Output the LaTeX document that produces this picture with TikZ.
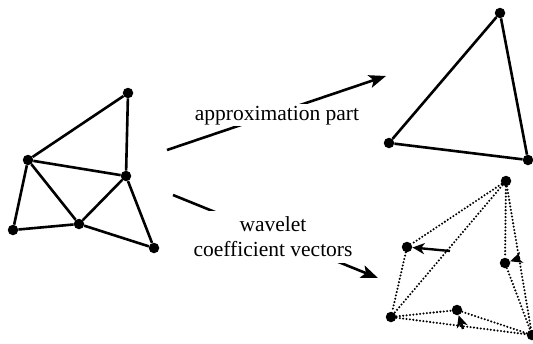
\documentclass[tikz,border=0pt]{standalone}
\usepackage{fontspec}
\setmainfont{Liberation Serif}
\usetikzlibrary{arrows.meta}
\begin{document}
\begin{tikzpicture}[x=1pt,y=-1pt,
  vtx/.style={circle,fill=black,inner sep=0pt,minimum size=10.5pt},
  edge/.style={line width=2.6pt},
  dotedge/.style={line width=2.3pt,dash pattern=on 0pt off 3.4pt,line cap=round},
  bigarrow/.style={line width=2.6pt,-{Stealth[length=17pt,width=13pt,inset=4pt]}},
  vecarrow/.style={line width=2.4pt,-{Stealth[length=12pt,width=11pt,inset=3.5pt]}},
  lbl/.style={fill=white,font=\fontsize{21.5}{25}\selectfont,align=center}]
\useasboundingbox (0,0) rectangle (533,343);
% left fine mesh
\node[vtx] (a) at (128,93) {};
\node[vtx] (b) at (28,160) {};
\node[vtx] (c) at (126,176) {};
\node[vtx] (d) at (13,230) {};
\node[vtx] (e) at (79,224) {};
\node[vtx] (f) at (154,248) {};
\draw[edge] (a) -- (b) (a) -- (c) (b) -- (c) (b) -- (d) (b) -- (e)
  (c) -- (e) (c) -- (f) (d) -- (e) (e) -- (f);
% top right coarse triangle
\node[vtx] (p) at (500,13) {};
\node[vtx] (q) at (389,143) {};
\node[vtx] (r) at (528,160) {};
\draw[edge] (p) -- (q) -- (r) -- (p);
% bottom right: wavelet vectors
\node[vtx] (t) at (506,181) {};
\node[vtx] (l) at (407,247) {};
\node[vtx] (m) at (505,263) {};
\node[vtx] (bl) at (391,317) {};
\node[vtx] (mm) at (457,310) {};
\node[vtx] (br) at (532,335) {};
\draw[dotedge] (t) -- (l) (t) -- (bl) (t) -- (m) (t) -- (br) (l) -- (bl)
  (m) -- (br) (bl) -- (mm) (mm) -- (br) (bl) -- (br);
\coordinate (lt) at (450,251);
\coordinate (mt) at (520,258);
\coordinate (mmt) at (463,329);
\draw[vecarrow] (lt) -- (l);
\draw[vecarrow] (mt) -- (m);
\draw[vecarrow] (mmt) -- (mm);
% big arrows with labels
\coordinate (s1) at (167,150);
\coordinate (e1) at (386,76);
\coordinate (s2) at (173,195);
\coordinate (e2) at (378,278);
\draw[bigarrow] (s1) -- (e1);
\draw[bigarrow] (s2) -- (e2);
\node[lbl,anchor=base,inner sep=1.5pt] (t1) at (277,120) {approximation part};
\node[lbl,inner xsep=2pt,inner ysep=6pt] (t2) at (273,237) {wavelet\\coefficient vectors};
\end{tikzpicture}
\end{document}
